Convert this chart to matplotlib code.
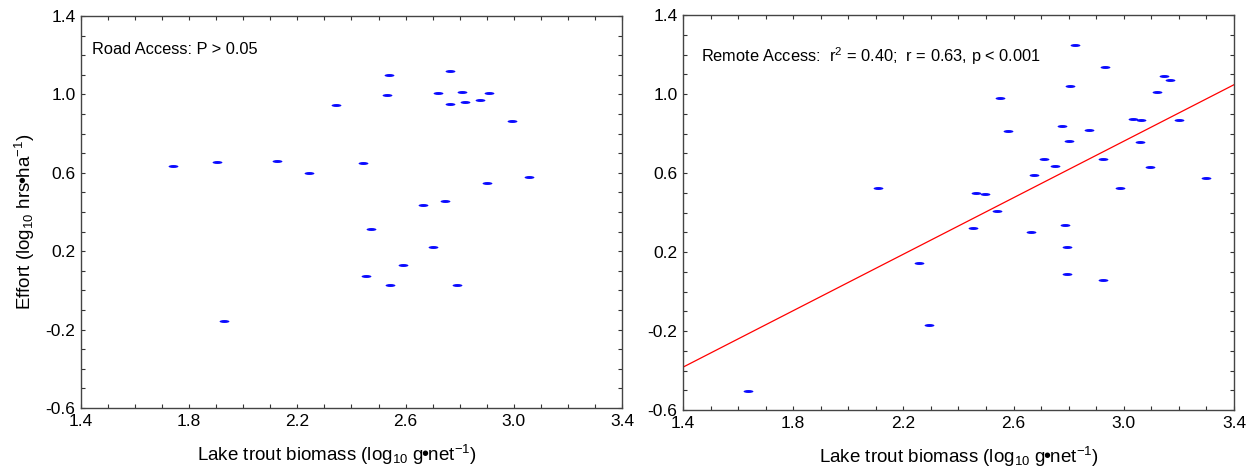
import matplotlib
matplotlib.use("Agg")
import matplotlib.pyplot as plt
import numpy as np
from matplotlib.path import Path
from matplotlib.transforms import Affine2D
from matplotlib.ticker import MultipleLocator, FormatStrFormatter

plt.rcParams['font.family'] = ['Liberation Sans', 'DejaVu Sans']
plt.rcParams['mathtext.default'] = 'regular'
plt.rcParams['axes.unicode_minus'] = False

# road access lakes: biomass (log10 g/net) vs effort (log10 hrs/ha)
road_biomass = [1.741, 1.904, 2.125, 2.244, 2.344, 2.442, 2.471, 2.453, 2.532,
                2.540, 2.544, 2.591, 2.664, 2.702, 2.719, 2.746, 2.764, 2.764,
                2.789, 2.809, 2.821, 2.874, 2.909, 2.900, 2.992, 3.055, 1.927]
road_effort = [0.637, 0.656, 0.660, 0.600, 0.944, 0.649, 0.312, 0.072, 0.998,
               1.100, 0.025, 0.129, 0.435, 0.220, 1.009, 0.454, 1.117, 0.951,
               0.030, 1.012, 0.963, 0.969, 1.009, 0.546, 0.864, 0.581, -0.154]

# remote access lakes
remote_biomass = [1.636, 2.108, 2.255, 2.294, 2.453, 2.465, 2.495, 2.541, 2.550,
                  2.578, 2.664, 2.675, 2.710, 2.752, 2.777, 2.786, 2.795, 2.795,
                  2.801, 2.804, 2.823, 2.874, 2.926, 2.926, 2.933, 2.986, 3.033,
                  3.061, 3.058, 3.096, 3.122, 3.146, 3.168, 3.199, 3.299]
remote_effort = [-0.506, 0.522, 0.145, -0.170, 0.320, 0.499, 0.492, 0.406, 0.980,
                 0.814, 0.303, 0.591, 0.670, 0.635, 0.836, 0.337, 0.226, 0.089,
                 0.761, 1.043, 1.247, 0.816, 0.670, 0.059, 1.139, 0.522, 0.873,
                 0.869, 0.756, 0.628, 1.011, 1.092, 1.073, 0.869, 0.573]

# fitted line for remote lakes
fit_slope = 0.715
fit_intercept = -1.384

xticks = [1.4, 1.8, 2.2, 2.6, 3.0, 3.4]
yticks = [-0.6, -0.2, 0.2, 0.6, 1.0, 1.4]

# flat ellipse marker
dash = Path.unit_circle().transformed(Affine2D().scale(1.0, 0.3))

fig = plt.figure(figsize=(12.53, 4.72), dpi=100)
ax1 = fig.add_axes([0.0646, 0.1356, 0.4318, 0.8305])
ax2 = fig.add_axes([0.5451, 0.1313, 0.4397, 0.8369])

# tight bullet between units
dot = r'$\!{•}\!$'
xlab = 'Lake trout biomass (log$_{10}$ g' + dot + 'net$^{-1}$)'
ylab = 'Effort (log$_{10}$ hrs' + dot + 'ha$^{-1}$)'


def style(ax):
    ax.set_xlim(1.4, 3.4)
    ax.set_ylim(-0.6, 1.4)
    ax.set_xticks(xticks)
    ax.set_yticks(yticks)
    ax.xaxis.set_minor_locator(MultipleLocator(0.1))
    ax.yaxis.set_minor_locator(MultipleLocator(0.1))
    ax.xaxis.set_major_formatter(FormatStrFormatter('%.1f'))
    ax.yaxis.set_major_formatter(FormatStrFormatter('%.1f'))
    ax.tick_params(which='both', direction='in', top=True, right=True,
                   length=3, width=0.8, color='#333333', labelsize=12.5)
    ax.tick_params(axis='x', pad=4)
    ax.tick_params(axis='y', pad=4)
    for s in ax.spines.values():
        s.set_color('#444444')
        s.set_linewidth(1.0)
    ax.set_xlabel(xlab, fontsize=13.5, labelpad=10)


style(ax1)
ax1.xaxis.label.set_x(0.473)
ax1.scatter(road_biomass, road_effort, marker=dash, s=50, color='#0a0aff',
            linewidths=0, zorder=3)
ax1.text(0.02, 0.915, 'Road Access: P > 0.05', transform=ax1.transAxes,
         fontsize=11.8, va='center', ha='left')
ax1.set_ylabel(ylab, fontsize=13.5, labelpad=6)
ax1.yaxis.label.set_y(0.474)

style(ax2)
xs = np.array([1.4, 3.4])
ax2.plot(xs, fit_slope * xs + fit_intercept, color='red', lw=0.9, zorder=2)
ax2.scatter(remote_biomass, remote_effort, marker=dash, s=50, color='#0a0aff',
            linewidths=0, zorder=3)
ax2.text(0.032, 0.895, 'Remote Access:  r$^2$ = 0.40;  r = 0.63, p < 0.001',
         transform=ax2.transAxes, fontsize=11.8, va='center', ha='left')

fig.savefig('out.png', dpi=100)
